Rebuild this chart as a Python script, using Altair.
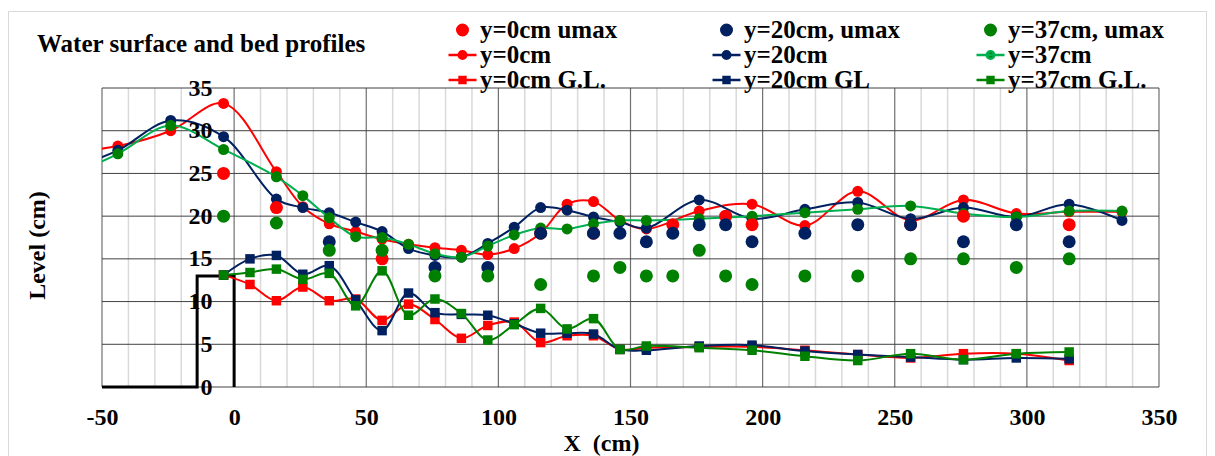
import altair as alt
import pandas as pd

FONT = "Liberation Serif"
RED = "#FF0000"
NAVY = "#002060"
GREEN = "#008000"
LGREEN = "#00B050"

# ---- water surface profiles (smooth lines with circles) ----
x_ws = [-60, -44, -24, -4, 16, 26, 36, 46, 56, 66, 76, 86, 96, 106, 116, 126, 136,
        146, 156, 176, 196, 216, 236, 256, 276, 296, 316, 336]
ws_y0 = [27.6, 28.2, 30.0, 33.2, 25.2, 21.1, 19.1, 18.2, 17.3, 16.7, 16.3, 16.0, 15.5, 16.2,
         18.0, 21.4, 21.7, 19.5, 18.5, 20.6, 21.4, 18.9, 22.9, 19.5, 21.9, 20.3, 20.5, 20.5]
ws_y20 = [25.8, 27.7, 31.2, 29.3, 22.0, 21.0, 20.4, 19.3, 18.2, 16.2, 15.4, 15.2, 16.8, 18.7,
          21.0, 20.7, 19.9, 19.3, 18.6, 21.9, 19.7, 20.8, 21.6, 19.7, 21.0, 19.9, 21.4, 19.5]
ws_y37 = [25.0, 27.3, 30.6, 27.8, 24.6, 22.4, 19.8, 17.6, 17.5, 16.7, 15.6, 15.2, 16.5, 17.8,
          18.6, 18.5, 19.1, 19.5, 19.5, 19.7, 20.0, 20.4, 20.8, 21.2, 20.3, 19.9, 20.6, 20.6]

# ---- ground level (bed) profiles ----
x_gl = [-4, 6, 16, 26, 36, 46, 56, 66, 76, 86, 96, 106, 116, 126, 136, 146, 156,
        176, 196, 216, 236, 256, 276, 296, 316]
gl_y0 = [13.1, 12.0, 10.1, 11.7, 10.1, 10.3, 7.8, 9.7, 7.9, 5.7, 7.2, 7.6, 5.2, 6.0, 6.0,
         4.4, 4.6, 4.7, 4.7, 4.3, 3.8, 3.4, 3.9, 3.9, 3.1]
gl_y20 = [13.1, 15.0, 15.4, 13.2, 14.2, 10.2, 6.6, 11.0, 8.7, 8.5, 8.4, 7.4, 6.3, 6.3, 6.2,
          4.4, 4.3, 4.8, 4.9, 4.2, 3.8, 3.5, 3.2, 3.4, 3.3]
gl_y37 = [13.1, 13.4, 13.8, 12.6, 13.3, 9.5, 13.6, 8.4, 10.3, 8.6, 5.5, 7.3, 9.2, 6.8, 8.0,
          4.4, 4.8, 4.6, 4.3, 3.6, 3.1, 3.9, 3.2, 3.9, 4.1]

# ---- umax levels (markers only) ----
um0_x = [-4, 16, 56, 116, 136, 166, 186, 196, 256, 276, 316]
um0_y = [25, 21, 15, 18, 18, 19, 20, 19, 19, 20, 19]
um20_x = [36, 76, 96, 116, 136, 146, 156, 166, 176, 186, 196, 216, 236, 256, 276, 296, 316]
um20_y = [17, 14, 14, 18, 18, 18, 17, 18, 19, 19, 17, 18, 19, 19, 17, 19, 17]
um37_x = [-4, 16, 36, 56, 76, 96, 116, 136, 146, 156, 166, 176, 186, 196, 216, 236, 256, 276, 296, 316]
um37_y = [20, 19.2, 16, 16, 13, 13, 12, 13, 14, 13, 13, 16, 13, 12, 13, 13, 15, 15, 14, 15]

# ---- weir / step outline ----
bed_x = [-50, -14, -14, 0, 0]
bed_y = [0, 0, 13, 13, 0]
bed_i = [0, 1, 2, 3, 4]

# ---- axis ticks / grid ----
x_major = [-50, 0, 50, 100, 150, 200, 250, 300, 350]
x_minor = [-40, -30, -20, 10, 20, 30, 40, 60, 70, 80, 90, 110, 120, 130, 140,
           160, 170, 180, 190, 210, 220, 230, 240, 260, 270, 280, 290, 310, 320, 330, 340]
y_major = [0, 5, 10, 15, 20, 25, 30, 35]

# legend entries (listed column by column: the legend fills columns first)
legend_names = ["y=0cm umax", "y=0cm", "y=0cm G.L.",
                "y=20cm, umax", "y=20cm", "y=20cm GL",
                "y=37cm, umax", "y=37cm", "y=37cm G.L."]

x_axis = alt.Axis(values=x_major, grid=False, ticks=False, domain=False,
                  labelExpr="'' + datum.value",
                  labelFont=FONT, labelFontSize=24, labelFontWeight="bold", labelColor="black",
                  labelPadding=18, labelFlush=False, labelOverlap=False,
                  title="X\u00a0 (cm)", titleFont=FONT, titleFontSize=24, titleFontWeight="bold",
                  titleColor="black", titleX=499, titleY=63, titleBaseline="alphabetic",
                  titleAlign="center")
y_axis = alt.Axis(values=y_major, grid=False, ticks=False, domain=False, offset=-110,
                  labelPadding=0, labelAlign="right", labelBaseline="middle",
                  labelFont=FONT, labelFontSize=24, labelFontWeight="bold", labelColor="black",
                  labelFlush=False, labelOverlap=False, zindex=1,
                  title="Level (cm)", titleFont=FONT, titleFontSize=24, titleFontWeight="bold",
                  titleColor="black", titleAngle=270, titleX=-168, titleY=157,
                  titleBaseline="alphabetic", titleAlign="center")

xs = alt.Scale(domain=[-50, 350], nice=False, zero=False)
ys = alt.Scale(domain=[0, 35], nice=False, zero=False)
XE = alt.X("x:Q", scale=xs, axis=x_axis)
YE = alt.Y("y:Q", scale=ys, axis=y_axis)


def df(x, y):
    return pd.DataFrame({"x": x, "y": y})


layers = []
layers.append(alt.Chart(pd.DataFrame({"x": x_minor})).mark_rule(color="#d9d9d9", strokeWidth=1.5).encode(x=XE))
layers.append(alt.Chart(pd.DataFrame({"x": x_major})).mark_rule(color="#6f6f6f", strokeWidth=1.2).encode(x=XE))
layers.append(alt.Chart(pd.DataFrame({"y": y_major})).mark_rule(color="#404040", strokeWidth=1).encode(y=YE))
layers.append(alt.Chart(pd.DataFrame({"x": bed_x, "y": bed_y, "i": bed_i}))
              .mark_line(color="black", strokeWidth=3).encode(x=XE, y=YE, order="i:Q"))

for ys_, col in [(gl_y0, RED), (gl_y20, NAVY), (gl_y37, GREEN)]:
    d = df(x_gl, ys_)
    layers.append(alt.Chart(d).mark_line(color=col, strokeWidth=2, interpolate="catmull-rom", clip=True)
                  .encode(x=XE, y=YE))
    layers.append(alt.Chart(d).mark_point(shape="square", filled=True, color=col, size=90, opacity=1, clip=True)
                  .encode(x=XE, y=YE))

for ys_, lc, pc in [(ws_y0, RED, RED), (ws_y20, NAVY, NAVY), (ws_y37, LGREEN, GREEN)]:
    d = df(x_ws, ys_)
    layers.append(alt.Chart(d).mark_line(color=lc, strokeWidth=2, interpolate="catmull-rom", clip=True)
                  .encode(x=XE, y=YE))
    layers.append(alt.Chart(d).mark_point(shape="circle", filled=True, color=pc, size=121, opacity=1, clip=True)
                  .encode(x=XE, y=YE))

for xx, yy, col in [(um0_x, um0_y, RED), (um20_x, um20_y, NAVY), (um37_x, um37_y, GREEN)]:
    layers.append(alt.Chart(df(xx, yy)).mark_point(shape="circle", filled=True, color=col, size=169,
                                                   opacity=1, clip=True).encode(x=XE, y=YE))

# legend (drawn from a scale over the series names)
c_big = "M0.375,0A0.375,0.375,0,1,1,-0.375,0A0.375,0.375,0,1,1,0.375,0Z"
c_line = "M-1,0H1M0.27,0A0.27,0.27,0,1,1,-0.27,0A0.27,0.27,0,1,1,0.27,0Z"
s_line = "M-1,0H1M-0.21,-0.21H0.21V0.21H-0.21Z"
fill_range = [RED, RED, RED, NAVY, NAVY, NAVY, GREEN, GREEN, GREEN]
stroke_range = [RED, RED, RED, NAVY, NAVY, NAVY, GREEN, LGREEN, GREEN]
shape_range = [c_big, c_line, s_line] * 3


def leg():
    return alt.Legend(title=None, orient="none", legendX=345, legendY=-70, columns=3,
                      columnPadding=75, rowPadding=0, clipHeight=24, gridAlign="all", symbolSize=784,
                      symbolStrokeWidth=2.5, labelFont=FONT, labelFontSize=25,
                      labelFontWeight="bold", labelColor="black", labelOffset=2,
                      labelLimit=400, symbolOpacity=1, padding=0, offset=0)


layers.append(alt.Chart(pd.DataFrame({"series": legend_names}))
              .mark_point(opacity=1, strokeWidth=2.5, size=784, clip=True)
              .encode(x=alt.value(-5000), y=alt.value(-5000),
                      fill=alt.Fill("series:N", scale=alt.Scale(domain=legend_names, range=fill_range), legend=leg()),
                      stroke=alt.Stroke("series:N", scale=alt.Scale(domain=legend_names, range=stroke_range), legend=leg()),
                      shape=alt.Shape("series:N", scale=alt.Scale(domain=legend_names, range=shape_range), legend=leg())))

layers.append(alt.Chart(alt.Data(values=[{}]))
              .mark_text(text="Water surface and bed profiles", font=FONT, fontSize=25, fontWeight="bold",
                         align="left", baseline="alphabetic", color="black")
              .encode(x=alt.value(-65), y=alt.value(-36)))
layers.append(alt.Chart(alt.Data(values=[{}]))
              .mark_rect(fill="white", fillOpacity=0, stroke="#d9d9d9", strokeWidth=1)
              .encode(x=alt.value(-93.5), x2=alt.value(1104.5), y=alt.value(-76.5), y2=alt.value(420)))

chart = (alt.layer(*layers)
         .properties(width=1057, height=299,
                     padding={"left": 94, "top": 80, "right": 48, "bottom": 69},
                     autosize=alt.AutoSizeParams(type="none"), background="white")
         .configure_view(stroke=None))

chart.save("out.html", embed_options={"renderer": "svg", "actions": False})
